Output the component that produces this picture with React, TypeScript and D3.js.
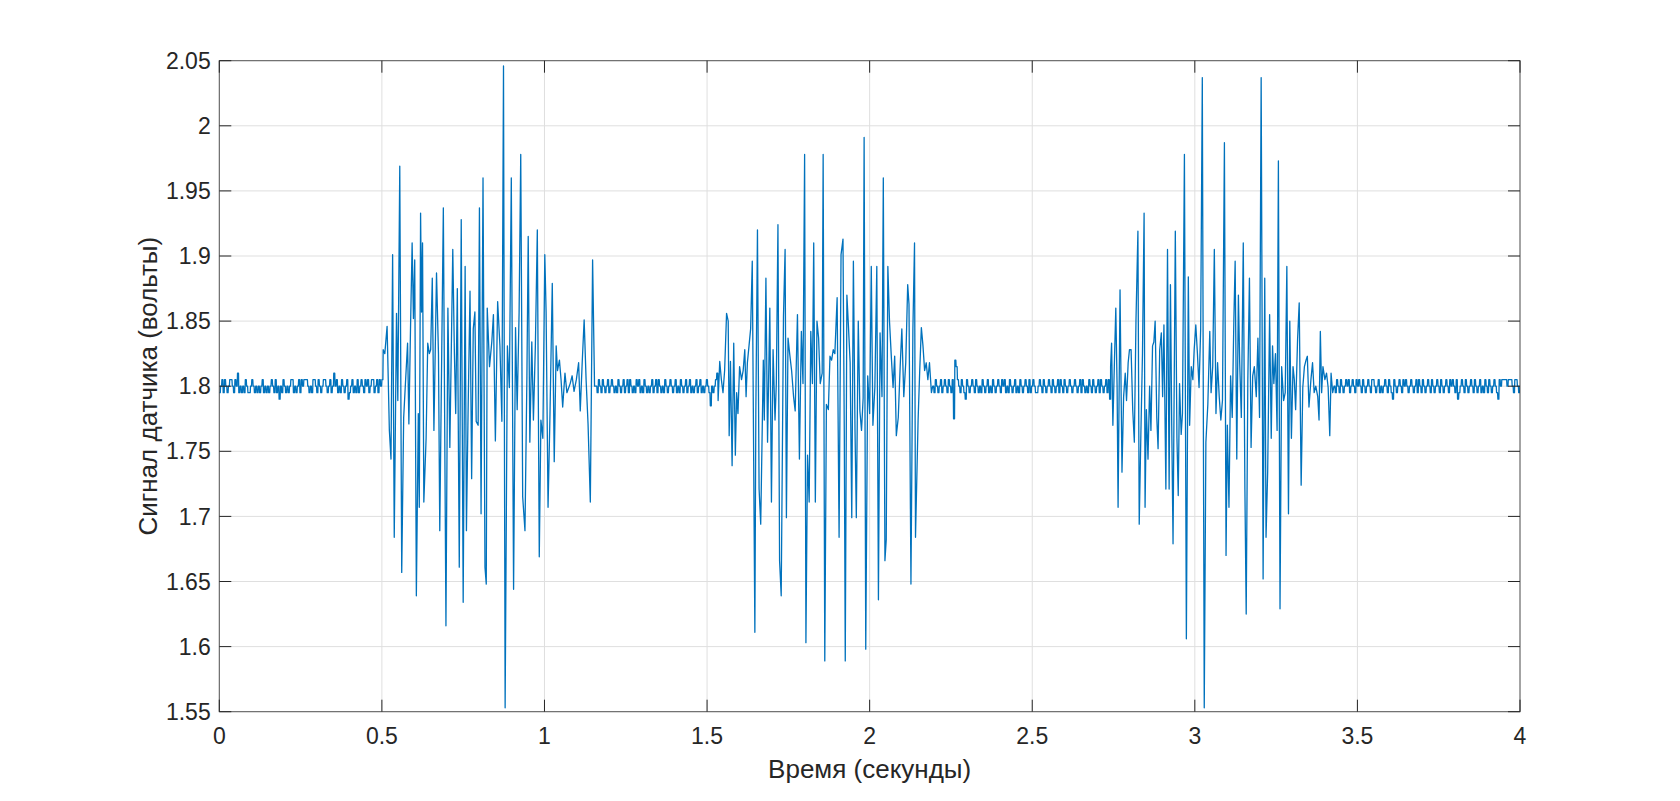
import { useEffect, useRef } from "react";
import * as d3 from "d3";

// axis ticks and labels, as printed on the figure
const xTicks = [0, 0.5, 1, 1.5, 2, 2.5, 3, 3.5, 4];
const yTicks = [1.55, 1.6, 1.65, 1.7, 1.75, 1.8, 1.85, 1.9, 1.95, 2, 2.05];
const xLabel = "Время (секунды)";
const yLabel = "Сигнал датчика (вольты)";

// quiet parts of the signal: one char per sample, quantised levels (volts)
const levelOf: Record<string, number> = {
  x: 1.775,
  z: 1.785,
  a: 1.79,
  b: 1.795,
  c: 1.8,
  d: 1.805,
  e: 1.81,
  f: 1.815,
  g: 1.82,
};
const baselineStep = 0.004;
const baselineStarts = [0, 1.158, 2.194, 3.428];
const baselineLevels = [
  "bcdbdcbcdd" + "cbdcebcbcb" + "dcbbcdcbcb" + "cbcdbcbcbc" + "dcbdbcacbd" + "cbcbcddbcb" +
    "cdbdcdddcb" + "cbddcbdcbc" + "ddcbcdbcec" + "dbcbdcbcda" + "bcdbcbdbcd" + "cbdcdbcddb" + "cdbdcd",
  "cbdcbdcbcd" + "bcdcbcbdcb" + "cdbcdbdcbc" + "bdcdbcbdcb" + "cbcdbcdbdc" + "bcbdcbcdcb" +
    "cdbcbdcbcd" + "bcdbcbcdbc" + "dbcbcdcbzc" + "bcde",
  "cbdcbcdbcd" + "cbdcbdxgfd" + "cbdcbadcbc" + "dcbdcbcbdc" + "bcdbcbdcbc" + "dcbdcdbcbd" +
    "cbcdbcbdcb" + "cdcbdbcdcb" + "bcdcbdcbcd" + "cbdcbcdbdc" + "bdcbcdcbcd" + "cbcdbdcbcb" +
    "dcbdcbcdbd" + "cbcdbda",
  "cbdcbdcbcd" + "cdbcdcbdcd" + "cbdcbcdcbd" + "dcbcdbcbcd" + "cbdcbadcbc" + "dcbdcdcbcd" +
    "cbcdbdcbdc" + "bcdcbdcbcd" + "cbdcbcdcbd" + "cdcbdabcdc" + "bdcbcdcbdc" + "bcdbcbdcbd" +
    "cbcdcbadcd" + "dddcdddcbd" + "dcbc",
];

// bursts: turning points (seconds, volts)
const burst1Times = [
  0.504, 0.509, 0.516, 0.523, 0.528, 0.533, 0.538, 0.545, 0.549, 0.555,
  0.561, 0.567, 0.573, 0.579, 0.583, 0.588, 0.593, 0.597, 0.601, 0.606,
  0.612, 0.615, 0.619, 0.622, 0.625, 0.629, 0.636, 0.641, 0.646, 0.65,
  0.655, 0.66, 0.668, 0.674, 0.678, 0.684, 0.689, 0.697, 0.703, 0.709,
  0.718, 0.723, 0.727, 0.732, 0.738, 0.744, 0.75, 0.756, 0.76, 0.765,
  0.771, 0.776, 0.781, 0.786, 0.79, 0.796, 0.8, 0.805, 0.811, 0.817,
  0.821, 0.824, 0.831, 0.838, 0.843, 0.849, 0.856, 0.863, 0.869, 0.874,
  0.879, 0.886, 0.892, 0.898, 0.905, 0.911, 0.916, 0.922, 0.927, 0.933,
  0.94, 0.946, 0.95, 0.955, 0.961, 0.966, 0.972, 0.978, 0.984, 0.989,
  0.995, 1.001, 1.005, 1.011, 1.017, 1.024, 1.03, 1.036, 1.04, 1.046,
  1.051, 1.056, 1.063, 1.069, 1.079, 1.085, 1.091, 1.098, 1.105, 1.11,
  1.116, 1.122, 1.128, 1.134, 1.141, 1.148, 1.154,
];
const burst1Values = [
  1.828, 1.825, 1.846, 1.766, 1.744, 1.901, 1.684, 1.856, 1.789, 1.969,
  1.657, 1.776, 1.805, 1.833, 1.771, 1.844, 1.91, 1.852, 1.897, 1.639,
  1.779, 1.707, 1.933, 1.857, 1.91, 1.711, 1.76, 1.833, 1.825, 1.828,
  1.883, 1.766, 1.887, 1.825, 1.689, 1.825, 1.937, 1.616, 1.86, 1.753,
  1.905, 1.825, 1.779, 1.875, 1.661, 1.928, 1.634, 1.892, 1.689, 1.779,
  1.873, 1.729, 1.844, 1.857, 1.773, 1.77, 1.937, 1.702, 1.96, 1.661,
  1.648, 1.86, 1.815, 1.834, 1.855, 1.758, 1.865, 1.831, 1.773, 2.046,
  1.553, 1.831, 1.799, 1.96, 1.644, 1.845, 1.782, 1.857, 1.978, 1.715,
  1.689, 1.808, 1.915, 1.757, 1.834, 1.774, 1.831, 1.92, 1.669, 1.774,
  1.76, 1.901, 1.857, 1.707, 1.779, 1.879, 1.742, 1.831, 1.812, 1.82,
  1.805, 1.784, 1.81, 1.795, 1.802, 1.808, 1.796, 1.805, 1.818, 1.781,
  1.818, 1.851, 1.805, 1.771, 1.711, 1.897, 1.8,
];

const burst2Times = [
  1.534, 1.539, 1.544, 1.549, 1.554, 1.56, 1.565, 1.568, 1.572, 1.577,
  1.582, 1.587, 1.591, 1.595, 1.6, 1.606, 1.611, 1.616, 1.62, 1.624,
  1.629, 1.634, 1.639, 1.642, 1.647, 1.65, 1.655, 1.66, 1.665, 1.669,
  1.673, 1.676, 1.681, 1.686, 1.693, 1.698, 1.703, 1.709, 1.713, 1.718,
  1.723, 1.728, 1.735, 1.74, 1.744, 1.749, 1.754, 1.76, 1.766, 1.771,
  1.778, 1.784, 1.79, 1.795, 1.8, 1.804, 1.809, 1.814, 1.819, 1.824,
  1.828, 1.833, 1.838, 1.843, 1.848, 1.854, 1.857, 1.862, 1.867, 1.873,
  1.878, 1.883, 1.888, 1.893, 1.9, 1.906, 1.912, 1.918, 1.922, 1.925,
  1.93, 1.935, 1.94, 1.945, 1.95, 1.955, 1.959, 1.965, 1.97, 1.975,
  1.98, 1.983, 1.988, 1.994, 2.0, 2.005, 2.01, 2.016, 2.022, 2.027,
  2.032, 2.038, 2.042, 2.047, 2.051, 2.056, 2.061, 2.067, 2.072, 2.077,
  2.082, 2.088, 2.094, 2.099, 2.105, 2.111, 2.117, 2.121, 2.127, 2.133,
  2.138, 2.141, 2.149, 2.154, 2.159, 2.164, 2.169, 2.174, 2.179, 2.184,
  2.19,
];
const burst2Values = [
  1.789, 1.819, 1.805, 1.795, 1.812, 1.856, 1.85, 1.762, 1.819, 1.739,
  1.833, 1.747, 1.795, 1.779, 1.815, 1.805, 1.812, 1.828, 1.792, 1.818,
  1.831, 1.844, 1.896, 1.792, 1.611, 1.782, 1.92, 1.721, 1.694, 1.757,
  1.82, 1.774, 1.883, 1.757, 1.86, 1.711, 1.828, 1.774, 1.802, 1.924,
  1.666, 1.639, 1.854, 1.905, 1.699, 1.837, 1.825, 1.812, 1.792, 1.781,
  1.855, 1.744, 1.842, 1.802, 1.978, 1.603, 1.747, 1.711, 1.842, 1.802,
  1.91, 1.711, 1.85, 1.837, 1.802, 1.81, 1.978, 1.589, 1.786, 1.782,
  1.823, 1.82, 1.828, 1.825, 1.868, 1.684, 1.901, 1.913, 1.766, 1.589,
  1.87, 1.845, 1.818, 1.699, 1.896, 1.766, 1.699, 1.85, 1.781, 1.766,
  1.791, 1.991, 1.598, 1.808, 1.779, 1.892, 1.77, 1.799, 1.892, 1.636,
  1.841, 1.792, 1.96, 1.666, 1.682, 1.892, 1.85, 1.821, 1.799, 1.823,
  1.762, 1.776, 1.816, 1.844, 1.792, 1.818, 1.878, 1.863, 1.648, 1.844,
  1.91, 1.684, 1.774, 1.812, 1.845, 1.831, 1.812, 1.818, 1.805, 1.818,
  1.795,
];

const burst3Times = [
  2.741, 2.744, 2.748, 2.753, 2.757, 2.761, 2.764, 2.77, 2.776, 2.781,
  2.786, 2.79, 2.795, 2.799, 2.804, 2.809, 2.814, 2.819, 2.825, 2.829,
  2.834, 2.839, 2.844, 2.847, 2.851, 2.856, 2.861, 2.865, 2.87, 2.874,
  2.878, 2.883, 2.887, 2.892, 2.897, 2.901, 2.905, 2.911, 2.916, 2.921,
  2.925, 2.929, 2.933, 2.94, 2.945, 2.949, 2.953, 2.958, 2.962, 2.968,
  2.974, 2.98, 2.984, 2.989, 2.994, 2.998, 3.003, 3.008, 3.013, 3.018,
  3.023, 3.029, 3.034, 3.04, 3.046, 3.05, 3.055, 3.06, 3.065, 3.07,
  3.075, 3.08, 3.085, 3.091, 3.096, 3.1, 3.105, 3.11, 3.115, 3.12,
  3.124, 3.129, 3.134, 3.138, 3.143, 3.149, 3.154, 3.158, 3.163, 3.168,
  3.173, 3.178, 3.183, 3.189, 3.194, 3.199, 3.204, 3.21, 3.215, 3.219,
  3.224, 3.23, 3.235, 3.239, 3.243, 3.248, 3.253, 3.257, 3.262, 3.267,
  3.273, 3.278, 3.283, 3.288, 3.292, 3.297, 3.302, 3.306, 3.31, 3.316,
  3.321, 3.327, 3.332, 3.337, 3.342, 3.346, 3.351, 3.357, 3.362, 3.367,
  3.372, 3.378, 3.382, 3.386, 3.39, 3.394, 3.4, 3.405, 3.41, 3.415,
  3.419, 3.424,
];
const burst3Values = [
  1.815, 1.833, 1.77, 1.821, 1.86, 1.799, 1.707, 1.874, 1.734, 1.792,
  1.81, 1.789, 1.818, 1.828, 1.828, 1.782, 1.757, 1.85, 1.919, 1.694,
  1.762, 1.825, 1.933, 1.707, 1.782, 1.744, 1.8, 1.766, 1.831, 1.834,
  1.85, 1.776, 1.752, 1.828, 1.841, 1.792, 1.847, 1.721, 1.905, 1.721,
  1.878, 1.77, 1.679, 1.919, 1.76, 1.716, 1.802, 1.763, 1.779, 1.978,
  1.606, 1.884, 1.77, 1.815, 1.805, 1.828, 1.847, 1.825, 1.799, 1.844,
  2.037, 1.553, 1.757, 1.786, 1.842, 1.795, 1.815, 1.905, 1.779, 1.818,
  1.792, 1.774, 1.789, 1.987, 1.67, 1.77, 1.707, 1.808, 1.776, 1.85,
  1.896, 1.744, 1.87, 1.818, 1.776, 1.91, 1.721, 1.625, 1.805, 1.883,
  1.753, 1.808, 1.815, 1.792, 1.837, 1.776, 2.037, 1.652, 1.883, 1.684,
  1.734, 1.855, 1.76, 1.831, 1.802, 1.825, 1.766, 1.973, 1.629, 1.815,
  1.789, 1.795, 1.892, 1.702, 1.85, 1.76, 1.815, 1.805, 1.782, 1.836,
  1.864, 1.724, 1.799, 1.815, 1.82, 1.823, 1.784, 1.805, 1.818, 1.795,
  1.8, 1.792, 1.774, 1.842, 1.795, 1.815, 1.805, 1.81, 1.799, 1.762,
  1.81, 1.795,
];

interface IPoint {
  t: number;
  v: number;
}

function Chart() {
  const ref = useRef<SVGSVGElement>(null);

  useEffect(() => {
    function buildSignal(): IPoint[] {
      const points: IPoint[] = [];
      // quantised samples are held until the next one (step look of the original)
      baselineLevels.forEach((levels, k) => {
        levels.split("").forEach((ch, i) => {
          const t = baselineStarts[k] + i * baselineStep;
          points.push({ t: t, v: levelOf[ch] });
          points.push({ t: t + baselineStep * 0.75, v: levelOf[ch] });
        });
      });
      const bursts = [
        [burst1Times, burst1Values],
        [burst2Times, burst2Values],
        [burst3Times, burst3Values],
      ];
      bursts.forEach(([times, values]) => {
        times.forEach((t, i) => points.push({ t: t, v: values[i] }));
      });
      return points.sort((a, b) => a.t - b.t);
    }

    function drawChart(data: IPoint[]) {
      const W = 1680;
      const H = 801;
      const margin = { top: 60.7, right: 160, bottom: 89.3, left: 219.3 };
      const width = W - margin.left - margin.right;
      const height = H - margin.top - margin.bottom;
      const font = "'Liberation Sans', Arial, Helvetica, sans-serif";
      const axisColor = "#262626";
      const tickLen = 12;

      const root = d3.select(ref.current);
      root.selectAll("*").remove();
      root.attr("width", W).attr("height", H);

      root.append("rect").attr("width", W).attr("height", H).attr("fill", "#ffffff");

      const svg = root
        .append("g")
        .attr("transform", `translate(${margin.left}, ${margin.top})`);

      const xScale = d3.scaleLinear().domain([0, 4]).range([0, width]);
      const yScale = d3.scaleLinear().domain([1.55, 2.05]).range([height, 0]);

      // grid
      const grid = svg.append("g").attr("stroke", "#dfdfdf").attr("stroke-width", 1);
      xTicks.forEach((t) => {
        grid
          .append("line")
          .attr("x1", xScale(t))
          .attr("x2", xScale(t))
          .attr("y1", 0)
          .attr("y2", height);
      });
      yTicks.forEach((v) => {
        grid
          .append("line")
          .attr("x1", 0)
          .attr("x2", width)
          .attr("y1", yScale(v))
          .attr("y2", yScale(v));
      });

      // signal
      svg
        .append("clipPath")
        .attr("id", "plotClip")
        .append("rect")
        .attr("x", 0)
        .attr("y", -2)
        .attr("width", width)
        .attr("height", height + 4);

      const line = d3
        .line<IPoint>()
        .x((d) => xScale(d.t))
        .y((d) => yScale(d.v));

      svg
        .append("path")
        .datum(data)
        .attr("clip-path", "url(#plotClip)")
        .style("fill", "none")
        .attr("stroke", "#0072BD")
        .attr("stroke-width", 1.3)
        .attr("stroke-linejoin", "round")
        .attr("d", line);

      // box + inward ticks on all four sides
      const frame = svg.append("g").attr("stroke", axisColor).attr("stroke-width", 1);
      frame
        .append("rect")
        .attr("x", 0)
        .attr("y", 0)
        .attr("width", width)
        .attr("height", height)
        .attr("fill", "none")
        .attr("stroke-opacity", 0.75);
      xTicks.forEach((t) => {
        const x = xScale(t);
        frame.append("line").attr("x1", x).attr("x2", x).attr("y1", height).attr("y2", height - tickLen);
        frame.append("line").attr("x1", x).attr("x2", x).attr("y1", 0).attr("y2", tickLen);
      });
      yTicks.forEach((v) => {
        const y = yScale(v);
        frame.append("line").attr("x1", 0).attr("x2", tickLen).attr("y1", y).attr("y2", y);
        frame.append("line").attr("x1", width).attr("x2", width - tickLen).attr("y1", y).attr("y2", y);
      });

      // tick labels
      svg
        .append("g")
        .selectAll("text")
        .data(xTicks)
        .join("text")
        .attr("x", (d) => xScale(d))
        .attr("y", height + 32)
        .attr("text-anchor", "middle")
        .attr("font-family", font)
        .attr("font-size", 23)
        .attr("fill", axisColor)
        .text((d) => String(d));

      svg
        .append("g")
        .selectAll("text")
        .data(yTicks)
        .join("text")
        .attr("x", -8.6)
        .attr("y", (d) => yScale(d) + 8.2)
        .attr("text-anchor", "end")
        .attr("font-family", font)
        .attr("font-size", 23)
        .attr("fill", axisColor)
        .text((d) => String(d));

      // axis titles
      svg
        .append("text")
        .attr("x", width / 2)
        .attr("y", height + 66)
        .attr("text-anchor", "middle")
        .attr("font-family", font)
        .attr("font-size", 26)
        .attr("fill", axisColor)
        .text(xLabel);

      svg
        .append("text")
        .attr("transform", `translate(${148 - margin.left}, ${height / 2}) rotate(-90)`)
        .attr("dy", "0.35em")
        .attr("text-anchor", "middle")
        .attr("font-family", font)
        .attr("font-size", 26)
        .attr("fill", axisColor)
        .text(yLabel);
    }

    drawChart(buildSignal());
  }, []);

  return <svg ref={ref} style={{ display: "block" }}></svg>;
}

export default function App() {
  return (
    <div>
      <style>{`body { margin: 0; }`}</style>
      <Chart />
    </div>
  );
}
